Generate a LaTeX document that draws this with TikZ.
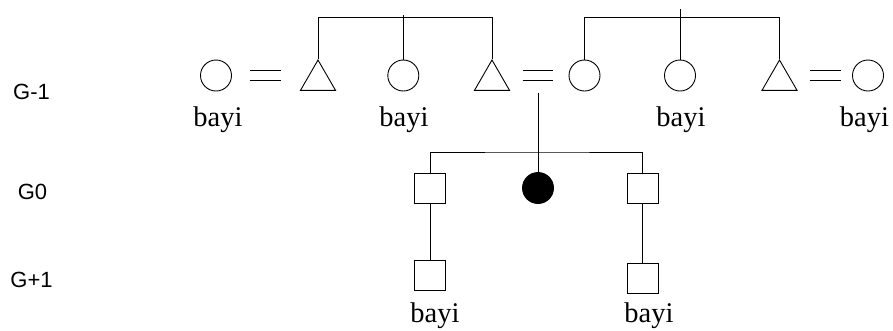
\documentclass[tikz,border=0pt]{standalone}
\usepackage{fontspec}
\setmainfont{Liberation Serif}
\setsansfont{Liberation Sans}
\usetikzlibrary{shapes.geometric}
\begin{document}
\begin{tikzpicture}[x=1pt,y=-1pt,line width=0.9pt,
  fem/.style={circle,draw,minimum size=31pt,inner sep=0pt},
  femfill/.style={fem,fill=black},
  male/.style={regular polygon,regular polygon sides=3,draw,minimum size=40.4pt,inner sep=0pt},
  sq/.style={rectangle,draw,minimum width=31pt,minimum height=30pt,inner sep=0pt},
  marr/.style={rectangle,minimum width=30pt,minimum height=9.3pt,inner sep=0pt},
  lbl/.style={anchor=base,inner sep=0pt,font=\fontsize{28.5}{30}\selectfont},
  gen/.style={anchor=base,inner sep=0pt,font=\sffamily\fontsize{22}{24}\selectfont}]
\useasboundingbox (0,0) rectangle (893,330);
% generation labels
\node[gen] (g1) at (31.5,99) {G-1};
\node[gen] (g2) at (32.5,199) {G0};
\node[gen] (g3) at (31.5,287) {G+1};
% G-1 row
\node[fem] (c1) at (216,75.5) {};
\node[marr] (e1) at (265.5,75.3) {};
\node[male] (t1) at (318,80.2) {};
\node[fem] (c2) at (403.3,75.5) {};
\node[male] (t2) at (492,80.2) {};
\node[marr] (e2) at (538,75.3) {};
\node[fem] (c3) at (584.5,75.5) {};
\node[fem] (c4) at (680,75.5) {};
\node[male] (t3) at (779.5,80.2) {};
\node[marr] (e3) at (825.5,75.3) {};
\node[fem] (c5) at (868,75.5) {};
% G0 row
\node[sq] (s1) at (430,188) {};
\node[femfill] (f) at (538,188) {};
\node[sq] (s2) at (642.5,188) {};
% G+1 row
\node[sq] (s3) at (430,275.5) {};
\node[sq] (s4) at (642.5,278) {};
% labels
\node[lbl] (l1) at (218,126) {bayi};
\node[lbl] (l2) at (404,126) {bayi};
\node[lbl] (l3) at (681,126) {bayi};
\node[lbl] (l4) at (864.5,126) {bayi};
\node[lbl] (l5) at (435,322) {bayi};
\node[lbl] (l6) at (649,322) {bayi};
% equals signs
\foreach \e in {e1,e2,e3}
  \draw (\e.north west) -- (\e.north east) (\e.south west) -- (\e.south east);
% sibling bars
\coordinate (bar1) at (403.3,17.5);
\coordinate (top1) at (403.3,14.7);
\coordinate (bar2) at (680,17.5);
\coordinate (top2) at (680,9);
\draw (t1.corner 1) |- (bar1) -| (t2.corner 1);
\draw (c2.north) -- (top1);
\draw (c3.north) |- (bar2) -| (t3.corner 1);
\draw (c4.north) -- (top2);
% descent
\coordinate (d0) at (538,92.7);
\coordinate (sib) at (538,152);
\draw (d0) -- (f.north);
\draw (s1.north) |- (sib) -| (s2.north);
\draw (s1.south) -- (s3.north);
\draw (s2.south) -- (s4.north);
\end{tikzpicture}
\end{document}
